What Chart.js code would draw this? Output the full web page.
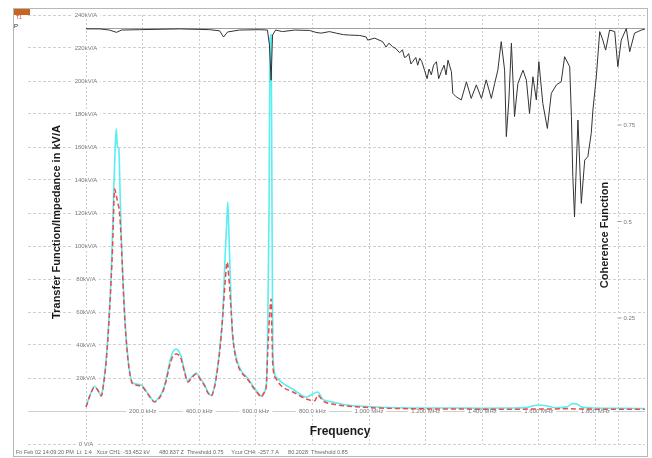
<!DOCTYPE html>
<html><head><meta charset="utf-8">
<script src="https://cdn.jsdelivr.net/npm/chart.js@4/dist/chart.umd.min.js"></script>
<style>html,body{margin:0;padding:0;background:#fff}#wrap{width:652px;height:458px}</style>
</head><body><div id="wrap"><canvas id="c" width="652" height="458"></canvas></div>
<script>
// Frequency in kHz, transfer function in kV/A
const redFreq = [0,16,30,41,54,62,71,83,94,101,108,113,118,125,130,138,148,157,165,195,213,228,242,256,271,283,295,307,319,327,336,348,360,373,389,403,419,429,442,454,466,475,483,491,499,505,513,519,525,535,548,564,578,592,606,619,629,637,642,648,654,657,660,672,684,695,731,778,808,819,829,837,872,920,990,1037,1108,1200,1300,1400,1500,1600,1700,1800,1900,1974];
const redVal = [2.4,10.3,14.5,12.7,9.1,16.4,29.7,60,100,134.5,129.7,125.4,121,101,80,52.7,31.5,20.6,16.4,15.2,11.5,7.9,5.5,7.3,11.5,18.2,27.3,33.3,34.5,33.9,31.5,23.6,17.6,20,22.4,19.4,15.2,11.5,9.1,14.5,27.3,40.6,57.6,77,90.3,80,60,44.8,35.8,28.5,23.6,20.6,17.6,13.9,10.9,8.5,10.9,15.3,35.8,55.8,67.9,46.7,27.5,19.4,16.4,14.5,11.5,7.3,6.2,9.7,7.9,6.2,4.2,3,2.2,1.8,1.5,1.3,1.2,1.1,1.1,1.2,1.3,1.1,1.0,1.0];

const cyanFreq = [0,16,30,41,54,62,71,83,90,97,103,107,111,116,120,125,130,138,148,157,165,195,213,228,242,256,271,283,295,307,319,327,336,348,360,373,389,403,419,429,442,454,466,475,483,491,497,501,505,511,516,525,535,548,564,578,592,606,619,629,637,642,647,650,654,657,660,672,694,730,778,819,837,871,920,990,1100,1200,1300,1400,1500,1560,1580,1600,1630,1660,1700,1720,1735,1750,1800,1900,1974];
const cyanVal = [2.6,10.5,15,13,9.3,16.8,30.5,62,88,128,159,171,160,159,134.5,104,82,54,32.5,21,17,15.8,12,8.3,5.8,7.8,12.2,19.5,29,35.8,37.6,36.4,33,24.5,18,20.6,23,20,15.8,12,9.5,15,28,42,58,92,113,126.7,107,74,49.7,37,29.5,24.5,21.2,18.2,14.5,11.5,9,11.5,16,49.7,128,225,228,128,34.5,20.6,17,13.3,8.5,11.5,7,5.5,3.6,2.7,2,1.8,1.8,1.7,1.8,2.2,3.2,3.6,3,2,2.5,4.5,4.2,2.5,1.8,1.6,1.5];

const cohFreq = [0,48,83,108,125,189,330,436,472,486,500,542,613,641,648,654,659,670,694,737,790,812,831,860,884,910,931,967,990,995,1020,1048,1060,1070,1083,1095,1108,1118,1125,1132,1140,1148,1154,1165,1172,1179,1186,1196,1205,1212,1220,1228,1238,1246,1255,1265,1272,1279,1291,1296,1308,1326,1344,1361,1379,1397,1414,1432,1444,1455,1467,1479,1485,1494,1503,1514,1526,1544,1556,1567,1579,1591,1600,1614,1630,1644,1662,1679,1691,1709,1715,1720,1726,1738,1750,1762,1773,1785,1791,1803,1815,1826,1836,1850,1868,1879,1891,1909,1921,1938,1962,1974];
const cohVal = [0.999,0.999,0.996,0.990,0.996,0.997,0.999,0.997,0.994,0.978,0.991,0.996,0.997,0.996,0.957,0.866,0.983,0.996,0.992,0.996,0.995,0.990,0.988,0.992,0.988,0.984,0.983,0.982,0.978,0.970,0.975,0.966,0.952,0.962,0.953,0.948,0.937,0.945,0.925,0.927,0.935,0.908,0.914,0.925,0.905,0.923,0.915,0.892,0.870,0.895,0.880,0.905,0.914,0.870,0.888,0.905,0.880,0.918,0.888,0.832,0.823,0.815,0.862,0.819,0.854,0.819,0.867,0.819,0.858,0.892,0.966,0.892,0.720,0.815,0.962,0.772,0.858,0.892,0.866,0.780,0.875,0.815,0.914,0.806,0.741,0.832,0.854,0.862,0.927,0.901,0.772,0.616,0.512,0.763,0.547,0.659,0.668,0.728,0.789,0.875,0.992,0.970,0.944,0.996,0.992,0.901,0.970,1.000,0.940,0.988,0.996,0.998];

const xGridValues = [0,200,400,600,800,1000,1200,1400,1600,1800];
const xLabelValues = [200,400,600,800,1000,1200,1400,1600,1800];
const xLabels = ["200.0 kHz","400.0 kHz","600.0 kHz","800.0 kHz","1.000 MHz","1.200 MHz","1.400 MHz","1.600 MHz","1.800 MHz"];
const yGridValues = [-20,0,20,40,60,80,100,120,140,160,180,200,220,240];
const yLabelValues = [-20,20,40,60,80,100,120,140,160,180,200,220,240];
const yLabels = ["0 V/A","20kV/A","40kV/A","60kV/A","80kV/A","100kV/A","120kV/A","140kV/A","160kV/A","180kV/A","200kV/A","220kV/A","240kV/A"];
const cohLabelValues = [0.75,0.5,0.25];
const cohLabels = ["0.75","0.5","0.25"];
const cohAxisFreq = 1878;
const statusText = "Fri Feb 02 14:09:20 PM  Li: 1:4   Xcur CH1: -53.452 kV      480.837 Z  Threshold 0.75     Ycur CH4: -257.7 A      80.2028  Threshold 0.85";

const zip = (xs, ys) => xs.map((x, i) => ({x, y: ys[i]}));

const decor = {
  id: 'decor',
  beforeDatasetsDraw(chart) {
    const c = chart.ctx, xs = chart.scales.x, ys = chart.scales.y, y2 = chart.scales.y2, a = chart.chartArea;
    c.save();
    const y0 = ys.getPixelForValue(0);
    c.strokeStyle = '#cfcfcf'; c.lineWidth = 1; c.setLineDash([]);
    c.beginPath(); c.moveTo(a.left, Math.round(y0)+0.5); c.lineTo(a.right, Math.round(y0)+0.5); c.stroke();
    const yc1 = y2.getPixelForValue(1);
    c.strokeStyle = '#a0a0a0';
    c.beginPath(); c.moveTo(xs.getPixelForValue(0), Math.round(yc1)-0.5); c.lineTo(a.right, Math.round(yc1)-0.5); c.stroke();
    const xa = Math.round(xs.getPixelForValue(cohAxisFreq)) + 0.5;
    c.strokeStyle = '#cccccc'; c.setLineDash([2,2]);
    c.beginPath(); c.moveTo(xa, a.top); c.lineTo(xa, a.bottom); c.stroke();
    c.setLineDash([]);
    c.font = '6px "Liberation Sans", Arial, sans-serif';
    c.textBaseline = 'middle';
    c.textAlign = 'center';
    xLabelValues.forEach((v, i) => {
      const px = xs.getPixelForValue(v), w = c.measureText(xLabels[i]).width;
      c.fillStyle = '#fff'; c.fillRect(px - w/2 - 3, y0 - 4, w + 6, 8);
      c.fillStyle = '#777'; c.fillText(xLabels[i], px, y0 + 0.5);
    });
    const xz = xs.getPixelForValue(0);
    yLabelValues.forEach((v, i) => {
      const py = ys.getPixelForValue(v), w = c.measureText(yLabels[i]).width;
      c.fillStyle = '#fff'; c.fillRect(xz - w/2 - 3, py - 4, w + 6, 8);
      c.fillStyle = '#777'; c.fillText(yLabels[i], xz, py + 0.5);
    });
    c.textAlign = 'left';
    cohLabelValues.forEach((v, i) => {
      const py = y2.getPixelForValue(v), w = c.measureText(cohLabels[i]).width;
      c.fillStyle = '#fff'; c.fillRect(xa - 2, py - 4, w + 10, 8);
      c.strokeStyle = '#999'; c.beginPath(); c.moveTo(xa - 1, py); c.lineTo(xa + 3, py); c.stroke();
      c.fillStyle = '#777'; c.fillText(cohLabels[i], xa + 5, py + 0.5);
    });
    c.restore();
  },
  afterDraw(chart) {
    const c = chart.ctx;
    c.save();
    c.fillStyle = '#1a1a1a';
    c.font = 'bold 11px "Liberation Sans", Arial, sans-serif';
    c.textAlign = 'center'; c.textBaseline = 'middle';
    c.save(); c.translate(57, 222); c.rotate(-Math.PI/2);
    c.fillText('Transfer Function/Impedance in kV/A', 0, 0); c.restore();
    c.save(); c.translate(605, 235); c.rotate(-Math.PI/2);
    c.fillText('Coherence Function', 0, 0); c.restore();
    c.font = 'bold 12px "Liberation Sans", Arial, sans-serif';
    c.fillText('Frequency', 340, 432);
    c.font = '5.5px "Liberation Sans", Arial, sans-serif';
    c.fillStyle = '#666'; c.textAlign = 'left';
    c.fillText(statusText, 16, 452);
    c.strokeStyle = '#b8b8b8'; c.lineWidth = 1;
    c.strokeRect(13.5, 8.5, 634, 448);
    c.fillStyle = '#c8641e'; c.fillRect(14, 9, 16, 6);
    c.fillStyle = '#e03030'; c.font = '5px "Liberation Sans", Arial, sans-serif';
    c.fillText('T1', 16, 18);
    c.fillStyle = '#222'; c.font = '6px "Liberation Sans", Arial, sans-serif';
    c.fillText('P', 14, 26);
    c.restore();
  }
};

new Chart(document.getElementById('c').getContext('2d'), {
  type: 'line',
  data: {
    datasets: [
      {label: 'Coherence', data: zip(cohFreq, cohVal), yAxisID: 'y2', borderColor: '#333333', borderWidth: 1, pointRadius: 0, tension: 0, fill: false},
      {label: 'Red', data: zip(redFreq, redVal), yAxisID: 'y', borderColor: 'rgb(240,72,72)', borderWidth: 1.5, borderDash: [5,3], pointRadius: 0, cubicInterpolationMode: 'monotone', fill: false},
      {label: 'Cyan', data: zip(cyanFreq, cyanVal), yAxisID: 'y', borderColor: 'rgb(90,238,240)', borderWidth: 1.6, pointRadius: 0, cubicInterpolationMode: 'monotone', fill: false}
    ]
  },
  options: {
    responsive: false, animation: false, devicePixelRatio: 1,
    layout: {padding: {left: 28, right: 7, top: 15, bottom: 14}},
    plugins: {legend: {display: false}, tooltip: {enabled: false}},
    scales: {
      x: {type: 'linear', min: -205, max: 1975,
          afterBuildTicks: s => { s.ticks = xGridValues.map(v => ({value: v})); },
          ticks: {display: false}, grid: {color: '#cccccc', lineWidth: 1, drawTicks: false},
          border: {display: false, dash: [2,2]}},
      y: {type: 'linear', min: -20, max: 240,
          afterBuildTicks: s => { s.ticks = yGridValues.map(v => ({value: v})); },
          ticks: {display: false}, grid: {color: '#d0d0d0', lineWidth: 1, drawTicks: false},
          border: {display: false, dash: [3,2]}},
      y2: {type: 'linear', display: false, min: -0.0764, max: 1.035, position: 'right'}
    }
  },
  plugins: [decor]
});
</script></body></html>
